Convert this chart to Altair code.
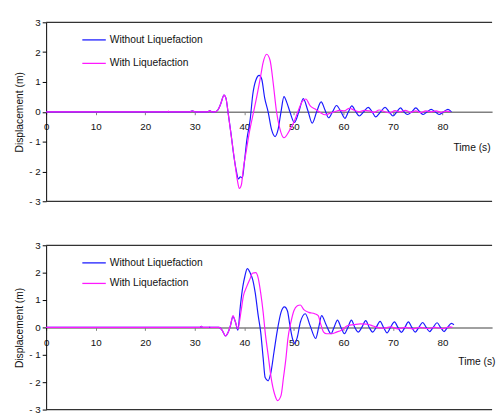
import altair as alt
import pandas as pd

SERIES = ["Without Liquefaction", "With Liquefaction"]
COLORS = ["#1a1aff", "#ff18ff"]

X_DOMAIN = [0, 90]
X_TICKS = [0, 10, 20, 30, 40, 50, 60, 70, 80]
Y_DOMAIN = [-3, 3]
Y_TICKS = [-3, -2, -1, 0, 1, 2, 3]

# ---- top panel ----
TOP_T_WITHOUT = [0, 29.0, 29.5, 30.0, 32.7, 33.0, 33.4, 34.0, 34.6, 35.2, 35.9, 36.3,
                 36.7, 37.3, 37.9, 38.4, 38.8, 39.2, 39.6, 40.0, 40.5, 41.2, 41.7, 42.3,
                 43.0, 43.5, 44.1, 44.8, 45.5, 46.2, 46.8, 47.4, 48.0, 48.6, 49.2, 50.1,
                 51.0, 51.9, 52.8, 53.7, 54.6, 55.5, 56.3, 57.0, 57.8, 58.6, 59.5, 60.3,
                 61.0, 61.7, 62.5, 63.2, 64.1, 65.0, 65.8, 66.5, 67.5, 68.4, 69.2, 70.0,
                 70.8, 71.5, 72.2, 72.9, 73.8, 74.6, 75.4, 76.1, 76.9, 77.7, 78.5, 79.3,
                 80.2, 81.1, 81.8]
TOP_D_WITHOUT = [0, 0, 0.03, 0, 0, 0.04, 0, 0, 0.05, 0.25, 0.56, 0.45,
                 0.0, -0.72, -1.5, -2.0, -2.25, -2.18, -2.22, -1.7, -0.95, -0.23, 0.58, 1.05,
                 1.22, 1.1, 0.47, 0.0, -0.6, -0.83, -0.6, 0.0, 0.51, 0.3, 0.0, -0.36,
                 0.0, 0.44, 0.05, -0.38, 0.0, 0.33, 0.05, -0.2, 0.0, 0.21, 0.0, -0.22,
                 0.0, 0.2, 0.0, -0.14, 0.0, 0.15, 0.0, -0.17, 0.0, 0.15, 0.0, -0.14,
                 0.0, 0.13, 0.0, -0.09, 0.0, 0.13, 0.0, -0.09, 0.0, 0.08, 0.0, -0.09,
                 0.0, 0.08, 0.0]

TOP_T_WITH = [0, 24.6, 24.7, 24.8, 29.0, 29.5, 30.0, 32.7, 33.0, 33.4, 34.0, 34.6,
              35.2, 35.9, 36.3, 36.7, 37.3, 38.0, 38.6, 39.0, 39.4, 39.8, 40.4, 41.0,
              41.9, 42.5, 43.2, 43.8, 44.5, 45.2, 45.8, 46.5, 47.1, 48.0, 49.1, 50.1,
              50.8, 51.7, 52.4, 53.3, 54.3, 55.3, 56.3, 57.3, 58.2, 59.2, 60.2, 61.2,
              62.2, 63.2, 64.2, 65.2, 66.2, 67.2, 68.4, 69.4, 70.4, 71.5, 72.5, 73.5,
              74.6, 75.6, 76.6, 77.7, 78.7, 79.7, 80.7, 81.6]
TOP_D_WITH = [0, 0, 0.02, 0, 0, 0.03, 0, 0, 0.04, 0, 0, 0.05,
              0.25, 0.56, 0.45, 0.0, -0.75, -1.6, -2.3, -2.57, -2.45, -1.9, -1.3, -0.7,
              0.02, 0.5, 1.11, 1.66, 1.93, 1.72, 1.0, 0.0, -0.52, -0.87, -0.63, -0.31,
              0.0, 0.35, 0.43, 0.2, 0.09, -0.02, -0.1, -0.05, 0.0, 0.05, 0.03, 0.12,
              0.05, 0.0, 0.05, 0.03, -0.02, 0.06, 0.0, -0.04, 0.04, 0.0, 0.05, -0.02,
              0.03, -0.03, 0.03, 0.0, 0.03, -0.02, 0.02, 0.0]

# ---- bottom panel ----
BOT_T_WITHOUT = [0, 31.0, 31.3, 31.6, 34.9, 35.5, 36.2, 36.8, 37.2, 37.7, 38.2, 38.7,
                 39.2, 39.7, 40.1, 40.6, 41.2, 41.7, 42.2, 42.8, 43.3, 43.8, 44.2, 44.8,
                 45.3, 46.0, 46.6, 47.4, 48.1, 48.7, 49.2, 49.7, 50.2, 50.7, 51.3, 52.3,
                 53.3, 54.4, 55.0, 55.6, 56.5, 57.5, 58.1, 58.8, 59.5, 60.2, 60.9, 61.6,
                 62.3, 63.0, 63.7, 64.5, 65.2, 65.9, 66.6, 67.4, 68.1, 68.8, 69.5, 70.3,
                 71.0, 71.7, 72.4, 73.1, 73.8, 74.5, 75.2, 76.0, 76.7, 77.4, 78.1, 78.9,
                 79.6, 80.3, 81.0, 81.8, 82.3]
BOT_D_WITHOUT = [0, 0, 0.04, 0, 0, -0.1, -0.31, -0.15, 0.07, 0.4, 0.2, -0.1,
                 0.79, 1.5, 1.86, 2.15, 1.98, 1.74, 1.26, 0.43, -0.17, -1.12, -1.83, -1.95,
                 -1.7, -0.88, -0.17, 0.55, 0.75, 0.6, 0.07, -0.4, -0.58, -0.35, 0.19, 0.5,
                 0.05, -0.4, 0.0, 0.43, 0.1, -0.23, 0.0, 0.27, 0.0, -0.23, 0.0, 0.27,
                 0.0, -0.17, 0.0, 0.25, 0.0, -0.17, 0.0, 0.22, 0.0, -0.2, 0.0, 0.2,
                 0.0, -0.18, 0.0, 0.2, 0.0, -0.17, 0.0, 0.18, 0.0, -0.15, 0.0, 0.17,
                 0.0, -0.15, 0.0, 0.15, 0.1]

BOT_T_WITH = [0, 31.0, 31.3, 31.6, 32.8, 33.0, 33.2, 34.9, 35.5, 36.2, 36.8, 37.2,
              37.7, 38.2, 38.7, 39.3, 39.8, 40.5, 41.2, 41.6, 42.3, 42.8, 43.3, 43.8,
              44.2, 44.8, 45.4, 46.1, 46.7, 47.4, 47.9, 48.4, 48.8, 49.4, 50.0, 50.7,
              51.3, 52.0, 53.0, 54.2, 54.9, 55.4, 56.0, 56.6, 57.6, 58.6, 59.6, 60.9,
              62.1, 63.4, 64.7, 66.0, 66.8, 68.0, 69.5, 71.0, 72.5, 74.0, 75.5, 77.0,
              78.5, 80.0, 81.5, 82.0]
BOT_D_WITH = [0, 0, 0.04, 0, 0, 0.02, 0, 0, -0.1, -0.31, -0.15, 0.07,
              0.43, 0.2, -0.05, 0.55, 1.14, 1.5, 1.8, 1.98, 2.0, 1.8, 1.26, 0.55,
              -0.17, -1.0, -1.83, -2.43, -2.67, -2.49, -1.83, -1.12, -0.4, 0.19, 0.61, 0.79,
              0.82, 0.65, 0.55, 0.5, 0.43, 0.13, -0.17, -0.23, -0.23, -0.17, -0.1, 0.07,
              0.1, 0.13, 0.12, 0.05, 0.0, -0.03, 0.02, -0.05, 0.0, -0.05, 0.0, -0.04,
              0.0, -0.04, 0.02, 0.0]

FONT = "Liberation Sans"


def panel(t_wo, d_wo, t_w, d_w, height, legend_y, row_pad, title_x, title_y):
    df_wo = pd.DataFrame({"t": t_wo, "d": d_wo, "series": SERIES[0]})
    df_w = pd.DataFrame({"t": t_w, "d": d_w, "series": SERIES[1]})
    df_border = pd.DataFrame({"d": Y_DOMAIN})

    xenc = alt.X(
        "t:Q",
        scale=alt.Scale(domain=X_DOMAIN, nice=False, zero=False),
        axis=alt.Axis(
            values=X_TICKS, offset=-height / 2, title="Time (s)",
            titleX=title_x, titleY=title_y, titleAlign="center",
            titleBaseline="middle", labelFlush=False, labelOverlap=False,
            domainColor="#808080", domainWidth=1.5, tickColor="#808080",
            tickSize=3, labelPadding=7, grid=False,
            labelFont=FONT, titleFont=FONT, labelFontSize=10, titleFontSize=10.5,
            titleFontWeight="normal", labelColor="#111111", titleColor="#111111",
        ),
    )
    yenc = alt.Y(
        "d:Q",
        scale=alt.Scale(domain=Y_DOMAIN, nice=False),
        axis=alt.Axis(
            values=Y_TICKS, title="Displacement (m)",
            labelExpr="datum.value < 0 ? '- ' + (-datum.value) : datum.label",
            domainColor="#000000", tickColor="#000000", tickSize=4,
            labelPadding=2, titlePadding=4, grid=False, labelFlush=False,
            labelFont=FONT, titleFont=FONT, labelFontSize=10, titleFontSize=10.5,
            titleFontWeight="normal", labelColor="#111111", titleColor="#111111",
        ),
    )
    color = alt.Color(
        "series:N",
        scale=alt.Scale(domain=SERIES, range=COLORS),
        legend=alt.Legend(
            orient="none", legendX=36, legendY=legend_y, title=None,
            direction="vertical", symbolType="stroke", symbolSize=576,
            symbolStrokeWidth=1.3, labelFont=FONT, labelFontSize=10.5,
            labelColor="#111111", rowPadding=row_pad, padding=0, labelOffset=3,
        ),
    )
    border = alt.Chart(df_border).mark_rule(color="#333333", strokeWidth=1.3).encode(y=yenc)
    line_wo = alt.Chart(df_wo).mark_line(strokeWidth=1.2, interpolate="monotone").encode(
        x=xenc, y=yenc, color=color)
    line_w = alt.Chart(df_w).mark_line(strokeWidth=1.2, interpolate="monotone").encode(
        x=xenc, y=yenc, color=color)
    return alt.layer(border, line_wo, line_w).properties(width=456, height=height)


top = panel(TOP_T_WITHOUT, TOP_D_WITHOUT, TOP_T_WITH, TOP_D_WITH, 183, 5, 5, 435, 37)
bottom = panel(BOT_T_WITHOUT, BOT_D_WITHOUT, BOT_T_WITH, BOT_D_WITH, 168, 5, 2, 440, 35)

chart = (
    alt.vconcat(top, bottom, spacing=35, background="white")
    .resolve_scale(color="independent")
    .resolve_legend(color="independent")
    .properties(padding={"left": 7, "top": 5, "right": 0, "bottom": 0})
    .configure_view(stroke=None)
)

chart.save("out.html", embed_options={"renderer": "svg", "actions": False})
